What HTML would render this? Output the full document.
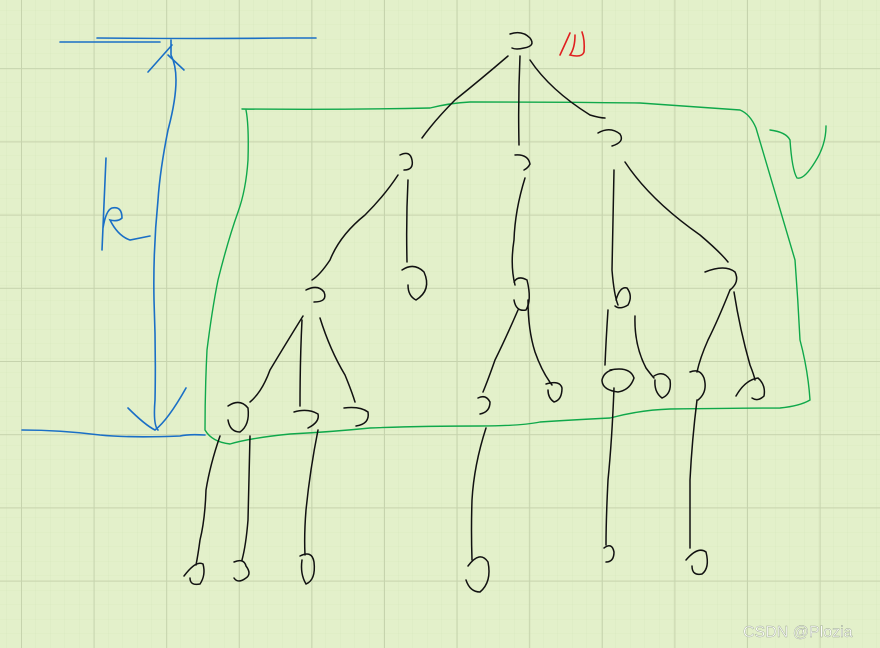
<!DOCTYPE html>
<html><head><meta charset="utf-8"><style>
html,body{margin:0;padding:0;background:#e3f0ca;}
svg{display:block}
</style></head><body>
<svg width="880" height="648" viewBox="0 0 880 648" xmlns="http://www.w3.org/2000/svg">
<defs>
<pattern id="minor" width="14.5" height="14.5" patternUnits="userSpaceOnUse" x="21" y="-4.5">
<path d="M0 0H14.5M0 0V14.5" stroke="#d6e6bc" stroke-width="0.6" fill="none"/>
</pattern>
<pattern id="major" width="72.6" height="73.2" patternUnits="userSpaceOnUse" x="21" y="-5">
<path d="M0 0H72.6M0 0V73.2" stroke="#c6d3ad" stroke-width="2" fill="none"/>
</pattern>
</defs>
<rect width="880" height="648" fill="#e3f0ca"/>
<rect width="880" height="648" fill="url(#minor)"/>
<rect width="880" height="648" fill="url(#major)"/>

<g fill="none" stroke="#1a6fc6" stroke-width="1.6" stroke-linecap="round">
<path d="M60 42H160"/>
<path d="M97 38Q200 39 290 38H316"/>
<path d="M171 40V55Q176 65 176 80Q176 100 168 130Q160 170 158 200Q153 250 154 300Q156 350 155 400Q153 425 158 430"/>
<path d="M148 72L172 45M168 55L184 70"/>
<path d="M128 408Q145 425 155 430Q168 420 186 388"/>
<path d="M22 430Q60 430 100 435Q130 438 180 436Q188 434 205 435"/>
<path d="M106 158Q104 200 102 250M103 228Q106 210 112 208Q122 206 122 218Q118 222 110 220Q118 236 130 240Q140 238 150 236"/>
</g>

<path d="M560 55Q566 42 570 33M575 35Q575 48 570 55Q582 58 584 52Q585 40 582 32" fill="none" stroke="#e02020" stroke-width="1.6" stroke-linecap="round"/>

<g fill="none" stroke="#0fa84a" stroke-width="1.4" stroke-linecap="round">
<path d="M242 109Q340 110 430 108Q450 103 470 102Q560 102 640 103Q680 106 740 110Q750 114 756 128Q770 175 795 260Q798 300 800 340Q808 370 810 400Q800 406 780 408Q740 408 670 409Q640 410 610 418Q570 420 540 422Q520 426 480 426Q420 426 370 428Q330 432 290 434Q250 438 230 444Q212 442 205 430Q205 390 207 350Q212 310 218 280Q228 240 238 212Q246 190 248 160Q249 125 246 110"/>
<path d="M770 130Q786 132 790 140Q792 170 797 178Q804 180 815 162Q826 145 826 126"/>
</g>

<g fill="none" stroke="#111" stroke-width="1.5" stroke-linecap="round">
<!-- root -->
<path d="M510 34Q522 30 530 38Q536 46 524 48Q516 50 512 48"/>
<path d="M508 56Q480 80 455 100Q435 120 422 138"/>
<path d="M520 56Q518 100 519 145"/>
<path d="M530 60Q550 90 590 115Q600 118 605 118"/>
<!-- level 1 -->
<path d="M400 155Q410 150 412 160Q414 170 404 170"/>
<path d="M515 155Q528 154 530 164Q528 168 524 170"/>
<path d="M598 133Q610 126 620 134Q625 142 612 146"/>
<path d="M398 175Q385 195 365 215Q340 235 330 260Q320 275 312 280"/>
<path d="M408 180Q406 220 407 262"/>
<path d="M525 178Q515 210 514 240Q510 265 515 285"/>
<path d="M614 170Q613 220 612 270Q614 295 618 305"/>
<path d="M625 162Q650 200 700 235Q720 252 728 262"/>
<!-- level 2 -->
<path d="M306 290Q318 284 324 292Q328 302 314 302"/>
<path d="M402 270Q414 262 424 272Q432 290 416 300Q408 296 408 285"/>
<path d="M514 282Q518 275 527 280Q532 300 526 310Q516 312 514 300"/>
<path d="M616 300Q620 286 627 288Q633 296 628 305Q620 310 615 306"/>
<path d="M705 272Q725 264 735 272Q740 282 730 290"/>
<!-- lines to level 3 -->
<path d="M303 316Q285 345 270 370Q262 392 250 402"/>
<path d="M302 320Q300 360 300 406"/>
<path d="M320 318Q330 350 345 375Q352 392 355 402"/>
<path d="M518 310Q505 340 495 360Q488 380 483 392"/>
<path d="M528 300Q528 330 535 352Q542 372 552 385"/>
<path d="M608 310Q606 340 605 365"/>
<path d="M635 316Q634 345 646 368Q652 376 654 378"/>
<path d="M730 290Q718 320 708 340Q700 358 697 372"/>
<path d="M734 292Q740 330 750 365Q754 375 755 380"/>
<!-- level 3 -->
<path d="M228 406Q240 398 248 408Q250 425 240 432Q230 432 228 420"/>
<path d="M294 412Q308 408 318 414Q320 422 308 428"/>
<path d="M344 408Q360 406 368 412Q370 424 356 426"/>
<path d="M478 398Q486 394 490 402Q490 412 480 414"/>
<path d="M546 384Q560 380 562 388Q562 400 554 402Q548 398 548 390"/>
<path d="M610 370Q630 366 634 378Q630 390 618 392Q602 390 602 380Q604 372 612 370"/>
<path d="M654 376Q664 370 670 380Q672 394 662 398Q654 392 655 380"/>
<path d="M690 372Q700 368 704 378Q708 392 698 400"/>
<path d="M736 396Q745 380 758 378Q766 385 764 396Q758 402 752 398"/>
<!-- lines to level 4 -->
<path d="M220 436Q210 465 206 490Q205 520 200 540Q198 555 196 565"/>
<path d="M250 436Q249 480 248 520Q246 545 242 560"/>
<path d="M318 430Q310 470 306 510Q304 535 305 555"/>
<path d="M486 428Q474 465 472 500Q471 530 472 560"/>
<path d="M614 388Q612 440 608 480Q606 520 606 545"/>
<path d="M697 400Q692 440 690 480Q690 520 690 548"/>
<!-- level 4 -->
<path d="M184 576Q196 560 203 564Q206 575 200 584Q190 586 190 578"/>
<path d="M234 562Q244 558 246 566Q252 574 246 578Q238 584 234 578"/>
<path d="M300 556Q312 550 314 562Q316 580 306 584Q300 574 302 560"/>
<path d="M468 566Q480 550 488 562Q492 582 480 592Q470 592 466 580"/>
<path d="M604 548Q612 542 614 552Q614 562 606 562"/>
<path d="M686 560Q698 546 706 552Q710 568 702 574Q692 576 692 566"/>
</g>

<text x="743" y="637" font-family="Liberation Sans, sans-serif" font-size="16" fill="#ffffff" stroke="#9aa590" stroke-width="0.4">CSDN @Plozia</text>
</svg>
</body></html>
